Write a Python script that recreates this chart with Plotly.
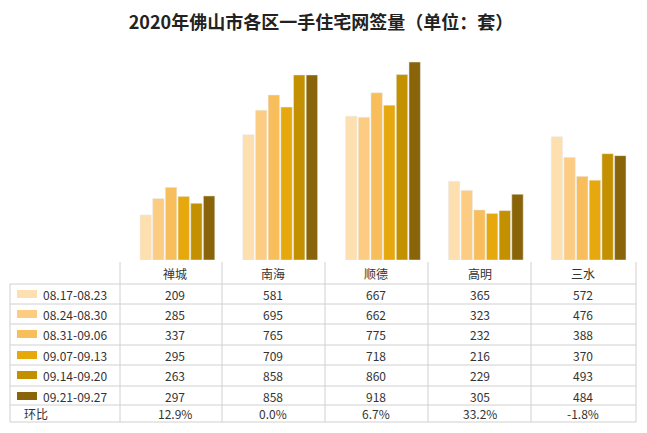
import plotly.graph_objects as go

categories = ["禅城", "南海", "顺德", "高明", "三水"]
weeks = ["08.17-08.23", "08.24-08.30", "08.31-09.06", "09.07-09.13", "09.14-09.20", "09.21-09.27"]
values = [
    [209, 581, 667, 365, 572],
    [285, 695, 662, 323, 476],
    [337, 765, 775, 232, 388],
    [295, 709, 718, 216, 370],
    [263, 858, 860, 229, 493],
    [297, 858, 918, 305, 484],
]
hb = ["12.9%", "0.0%", "6.7%", "33.2%", "-1.8%"]
colors = ["#FDDFB0", "#FCCC82", "#F8BE5C", "#E6A80C", "#C39000", "#8A6408"]

W, H = 647, 433
OFF = 8  # page body margin
L, R, T, B = 118, 15, 37, 181
pw, ph = W - L - R, H - T - B
def xp(px): return (px - OFF - L) / pw
def yp(py): return (H - B - (py - OFF)) / ph

fig = go.Figure()
for i, w in enumerate(weeks):
    fig.add_bar(x=categories, y=values[i], name=w, marker_color=colors[i], showlegend=False)

shapes, ann = [], []
font = dict(family="Noto Sans CJK SC", size=12, color="#333")
row_c = [294, 314, 334, 355, 375, 396]
col_c = [175, 273, 376, 480, 583]
vlines = [120, 222, 325, 428, 531, 636]
hlines = [284, 304, 324, 345, 365, 386, 405, 422]
lc = "#D0D0D0"
def a(x, y, text, xanchor="center"):
    ann.append(dict(x=xp(x), y=yp(y), text=text, showarrow=False, xref="paper", yref="paper",
                    xanchor=xanchor, yanchor="middle", font=font))
for y in hlines:
    shapes.append(dict(type="line", xref="paper", yref="paper", x0=xp(10), x1=xp(636), y0=yp(y), y1=yp(y), line=dict(color=lc, width=1)))
for x in vlines:
    shapes.append(dict(type="line", xref="paper", yref="paper", x0=xp(x), x1=xp(x), y0=yp(262), y1=yp(422), line=dict(color=lc, width=1)))
shapes.append(dict(type="line", xref="paper", yref="paper", x0=xp(10), x1=xp(10), y0=yp(284), y1=yp(422), line=dict(color=lc, width=1)))
for j, c in enumerate(categories):
    a(col_c[j], 273, c)
for i, w in enumerate(weeks):
    shapes.append(dict(type="rect", xref="paper", yref="paper", x0=xp(17), x1=xp(37), y0=yp(row_c[i] - 4), y1=yp(row_c[i] + 4), fillcolor=colors[i], line=dict(width=0)))
    a(41, row_c[i], w, "left")
    for j in range(5):
        a(col_c[j], row_c[i], str(values[i][j]))
a(22, 413, "环比", "left")
for j in range(5):
    a(col_c[j], 413, hb[j])

fig.update_layout(
    width=W, height=H, margin=dict(l=L, r=R, t=T, b=B),
    paper_bgcolor="white", plot_bgcolor="white",
    barmode="group", bargap=0.26, bargroupgap=0.1,
    title=dict(text="<b>2020年佛山市各区一手住宅网签量（单位：套）</b>", x=(321 - OFF) / W, xref="container",
               xanchor="center", y=1 - (23 - OFF) / H, yanchor="middle",
               font=dict(family="Noto Sans CJK SC", size=18, color="#222")),
    xaxis=dict(showticklabels=False, showline=False, range=[-0.5, 4.5]),
    yaxis=dict(range=[0, 997], showticklabels=False, showgrid=False, zeroline=False),
    shapes=shapes, annotations=ann,
)
fig.write_html("out.html")
